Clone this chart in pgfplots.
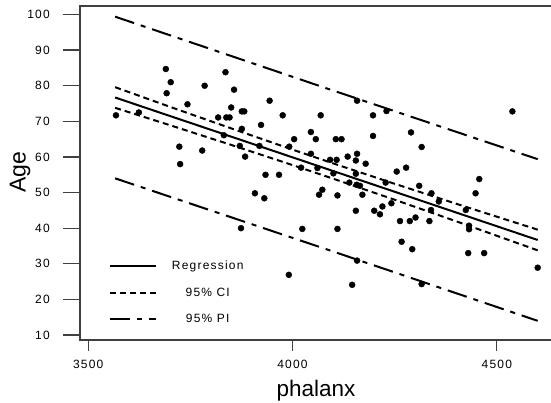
\documentclass[border=0pt]{standalone}
\usepackage{fontspec}
\setmainfont{Liberation Sans}
\newfontfamily\tickfont[LetterSpace=10]{Liberation Sans}
\usepackage{pgfplots}
\pgfplotsset{compat=1.18}

\pgfplotstableread{
x y
3568 71.7
3624 72.5
3690 84.7
3702 81.0
3692 77.9
3743 74.8
3723 62.9
3725 58.0
3836 83.8
3785 80.0
3857 78.9
3850 73.9
3876 72.8
3882 72.8
3818 71.1
3838 71.1
3846 71.1
3876 67.9
3832 66.1
3871 63.1
3779 61.8
3884 60.1
3944 75.8
3976 71.7
4069 71.7
4197 71.7
4230 72.9
4158 75.8
3923 69.0
4045 67.0
4004 65.0
4057 65.0
4106 65.0
4120 65.0
4197 65.9
3919 63.1
3992 62.9
4045 60.9
4092 59.2
4108 59.2
4135 60.1
4158 60.9
4155 59.0
4179 58.1
4021 57.0
4100 55.4
4255 55.9
3934 55.0
3967 55.0
4139 52.8
4157 52.2
4165 51.9
4228 52.8
3908 49.8
3931 48.4
4065 49.4
4073 50.8
4110 49.2
4171 49.4
4061 56.9
4155 55.3
4538 72.8
4290 66.9
4316 62.8
4278 57.0
4457 53.8
4310 51.9
4340 49.8
4448 49.8
4358 47.5
4339 45.1
4424 45.1
4263 42.0
4287 42.0
4301 43.0
4335 42.0
4432 40.7
4432 39.7
4267 36.2
4293 34.1
4430 33.0
4469 33.0
4600 28.9
4316 24.3
4155 44.9
4200 44.9
4220 46.1
4214 43.9
4242 47.0
4024 39.8
4110 39.8
4158 30.9
3991 26.9
4146 24.1
3874 40.0
}\agedata

\pgfplotstableread{
x reg ciu cil
3566 76.70 79.60 73.80
3700 71.51 74.09 68.93
3850 65.71 68.03 63.39
4000 59.90 62.07 57.73
4100 56.03 58.18 53.88
4250 50.23 52.47 47.99
4400 44.42 46.88 41.96
4600 36.68 39.58 33.78
}\fitdata

\pgfplotstableread{
x piu pil
3566 99.40 54.00
4083 79.29 34.09
4600 59.38 13.98
}\pidata

\pgfplotsset{
  frame/.style={
    scale only axis,
    width=472pt, height=334pt,
    xmin=3480, xmax=4635,
    ymin=8.6, ymax=102.4,
    tick pos=left,
    tick align=outside,
    axis line style={black!75, line width=1.3pt},
    tick style={black!75, line width=1.3pt},
    /pgf/number format/assume math mode=true,
    /pgf/number format/1000 sep={},
    ticklabel style={font=\tickfont\fontsize{12}{14}\selectfont},
  },
}

\begin{document}
\begin{tikzpicture}
\path[use as bounding box] (-80pt,-63pt) rectangle (471pt,340pt);
% x ticks are shorter than y ticks, so they come from a second axis
\begin{axis}[
  frame,
  major tick length=11pt,
  xtick={3500,4000,4500},
  ytick=\empty,
  xticklabel style={yshift=-5.2pt},
  xlabel={phalanx},
  xlabel style={at={(axis description cs:0.5,-0.152)}, anchor=center,
    font=\fontsize{22.5}{26}\selectfont},
]
\end{axis}
\begin{axis}[
  frame,
  major tick length=17pt,
  xtick=\empty,
  ytick={10,20,30,40,50,60,70,80,90,100},
  yticklabel style={xshift=-9.7pt},
  ylabel={Age},
  ylabel style={at={(axis description cs:-0.127,0.503)}, anchor=center,
    font=\fontsize{23}{27}\selectfont},
  legend style={at={(axis description cs:0.061,0.243)}, anchor=north west,
    draw=none, fill=none, inner sep=0pt, row sep=12.5pt, column sep=13pt,
    font=\tickfont\fontsize{12}{14}\selectfont, cells={anchor=center}},
  legend image code/.code={\draw[#1] (0pt,0pt) -- (46pt,0pt);},
]
\addplot[only marks, mark=*, mark size=3pt, black, forget plot] table[x=x, y=y] {\agedata};
\addplot[black, line width=2pt] table[x=x, y=reg] {\fitdata};
\addlegendentry{Regression}
\addplot[black, line width=2pt, dash pattern=on 6pt off 4pt] table[x=x, y=ciu] {\fitdata};
\addlegendentry{95\% CI}
\addplot[black, line width=2pt, dash pattern=on 6pt off 4pt, forget plot] table[x=x, y=cil] {\fitdata};
\addplot[black, line width=2pt, dash pattern=on 20pt off 7pt on 5pt off 7pt] table[x=x, y=piu] {\pidata};
\addlegendentry{95\% PI}
\addplot[black, line width=2pt, dash pattern=on 20pt off 7pt on 5pt off 7pt, forget plot] table[x=x, y=pil] {\pidata};
\end{axis}
\end{tikzpicture}
\end{document}
